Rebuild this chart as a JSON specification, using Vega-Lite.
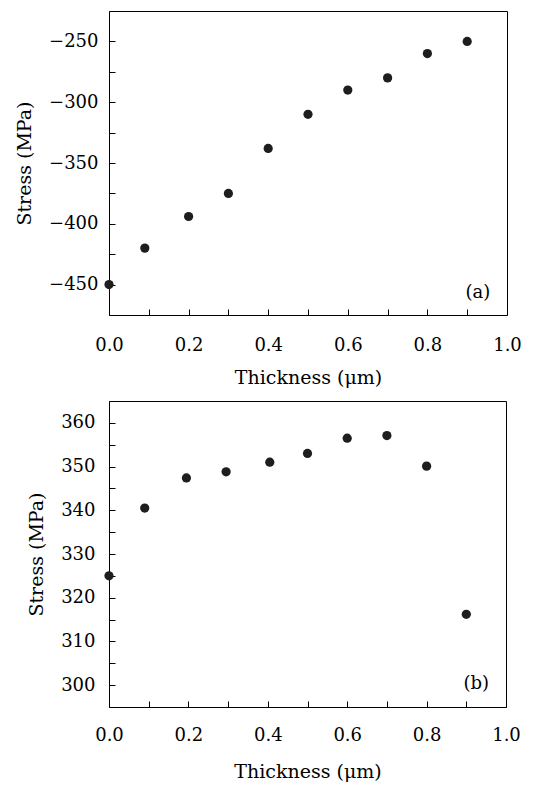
{
  "$schema": "https://vega.github.io/schema/vega-lite/v6.json",
  "padding": {"left": 15, "top": 1, "right": 5, "bottom": 2},
  "spacing": 3,
  "config": {
    "font": "DejaVu Serif",
    "view": {"stroke": "black", "strokeWidth": 1},
    "axis": {
      "domain": false, "grid": false, "tickColor": "black", "tickWidth": 1, "tickSize": -6,
      "labelColor": "black", "titleColor": "black",
      "labelFont": "DejaVu Serif", "titleFont": "DejaVu Serif",
      "labelFontSize": 18, "titleFontSize": 19, "titleFontWeight": "normal",
      "labelFlush": false, "labelOverlap": false
    }
  },
  "vconcat": [
    {
      "width": 398, "height": 304,
      "layer": [
        {
          "data": {"values": [
            {"thickness": 0.0, "stress": -450},
            {"thickness": 0.09, "stress": -420},
            {"thickness": 0.2, "stress": -394},
            {"thickness": 0.3, "stress": -375},
            {"thickness": 0.4, "stress": -338},
            {"thickness": 0.5, "stress": -310},
            {"thickness": 0.6, "stress": -290},
            {"thickness": 0.7, "stress": -280},
            {"thickness": 0.8, "stress": -260},
            {"thickness": 0.9, "stress": -250}
          ]},
          "mark": {"type": "point", "filled": true, "size": 85, "color": "#1e1e1e", "opacity": 1},
          "encoding": {
            "x": {"field": "thickness", "type": "quantitative",
              "scale": {"domain": [0, 1], "nice": false},
              "axis": {"title": "Thickness (μm)", "format": ".1f",
                "values": [0, 0.1, 0.2, 0.3, 0.4, 0.5, 0.6, 0.7, 0.8, 0.9, 1.0],
                "labelExpr": "round(datum.value*10) % 2 === 0 ? datum.label : ''",
                "encode": {"ticks": {"update": {"y2": {"signal": "round(datum.value*10) % 2 === 0 ? -6 : -3"}}}},
                "labelPadding": 27, "titlePadding": 14}},
            "y": {"field": "stress", "type": "quantitative",
              "scale": {"domain": [-475, -225], "nice": false, "zero": false},
              "axis": {"title": "Stress (MPa)",
                "values": [-475, -450, -425, -400, -375, -350, -325, -300, -275, -250, -225],
                "labelExpr": "round(datum.value/25) % 2 === 0 ? datum.label : ''",
                "encode": {"ticks": {"update": {"x2": {"signal": "round(datum.value/25) % 2 === 0 ? 6 : 3"}}}},
                "labelPadding": 17, "titlePadding": 14}}
          }
        },
        {
          "data": {"values": [{"label": "(a)"}]},
          "mark": {"type": "text", "fontSize": 18, "font": "DejaVu Serif", "color": "black"},
          "encoding": {
            "x": {"datum": 0.927, "type": "quantitative",
              "axis": {"title": "Thickness (μm)", "format": ".1f",
                "values": [0, 0.1, 0.2, 0.3, 0.4, 0.5, 0.6, 0.7, 0.8, 0.9, 1.0],
                "labelExpr": "round(datum.value*10) % 2 === 0 ? datum.label : ''",
                "encode": {"ticks": {"update": {"y2": {"signal": "round(datum.value*10) % 2 === 0 ? -6 : -3"}}}},
                "labelPadding": 27, "titlePadding": 14}},
            "y": {"datum": -457, "type": "quantitative",
              "axis": {"title": "Stress (MPa)",
                "values": [-475, -450, -425, -400, -375, -350, -325, -300, -275, -250, -225],
                "labelExpr": "round(datum.value/25) % 2 === 0 ? datum.label : ''",
                "encode": {"ticks": {"update": {"x2": {"signal": "round(datum.value/25) % 2 === 0 ? 6 : 3"}}}},
                "labelPadding": 17, "titlePadding": 14}},
            "text": {"field": "label"}
          }
        }
      ]
    },
    {
      "width": 397, "height": 306,
      "layer": [
        {
          "data": {"values": [
            {"thickness": 0.0, "stress": 325},
            {"thickness": 0.09, "stress": 340.5},
            {"thickness": 0.195, "stress": 347.4},
            {"thickness": 0.295, "stress": 348.8},
            {"thickness": 0.405, "stress": 351},
            {"thickness": 0.5, "stress": 353},
            {"thickness": 0.6, "stress": 356.5},
            {"thickness": 0.7, "stress": 357.1},
            {"thickness": 0.8, "stress": 350.1},
            {"thickness": 0.9, "stress": 316.2}
          ]},
          "mark": {"type": "point", "filled": true, "size": 85, "color": "#1e1e1e", "opacity": 1},
          "encoding": {
            "x": {"field": "thickness", "type": "quantitative",
              "scale": {"domain": [0, 1], "nice": false},
              "axis": {"title": "Thickness (μm)", "format": ".1f",
                "values": [0, 0.1, 0.2, 0.3, 0.4, 0.5, 0.6, 0.7, 0.8, 0.9, 1.0],
                "labelExpr": "round(datum.value*10) % 2 === 0 ? datum.label : ''",
                "encode": {"ticks": {"update": {"y2": {"signal": "round(datum.value*10) % 2 === 0 ? -6 : -3"}}}},
                "labelPadding": 25, "titlePadding": 18}},
            "y": {"field": "stress", "type": "quantitative",
              "scale": {"domain": [295, 365], "nice": false, "zero": false},
              "axis": {"title": "Stress (MPa)",
                "values": [295, 300, 305, 310, 315, 320, 325, 330, 335, 340, 345, 350, 355, 360, 365],
                "labelExpr": "round(datum.value/5) % 2 === 0 ? datum.label : ''",
                "encode": {"ticks": {"update": {"x2": {"signal": "round(datum.value/5) % 2 === 0 ? 6 : 3"}}}},
                "labelPadding": 20, "titlePadding": 14}}
          }
        },
        {
          "data": {"values": [{"label": "(b)"}]},
          "mark": {"type": "text", "fontSize": 18, "font": "DejaVu Serif", "color": "black"},
          "encoding": {
            "x": {"datum": 0.925, "type": "quantitative",
              "axis": {"title": "Thickness (μm)", "format": ".1f",
                "values": [0, 0.1, 0.2, 0.3, 0.4, 0.5, 0.6, 0.7, 0.8, 0.9, 1.0],
                "labelExpr": "round(datum.value*10) % 2 === 0 ? datum.label : ''",
                "encode": {"ticks": {"update": {"y2": {"signal": "round(datum.value*10) % 2 === 0 ? -6 : -3"}}}},
                "labelPadding": 25, "titlePadding": 18}},
            "y": {"datum": 300.3, "type": "quantitative",
              "axis": {"title": "Stress (MPa)",
                "values": [295, 300, 305, 310, 315, 320, 325, 330, 335, 340, 345, 350, 355, 360, 365],
                "labelExpr": "round(datum.value/5) % 2 === 0 ? datum.label : ''",
                "encode": {"ticks": {"update": {"x2": {"signal": "round(datum.value/5) % 2 === 0 ? 6 : 3"}}}},
                "labelPadding": 20, "titlePadding": 14}},
            "text": {"field": "label"}
          }
        }
      ]
    }
  ]
}
